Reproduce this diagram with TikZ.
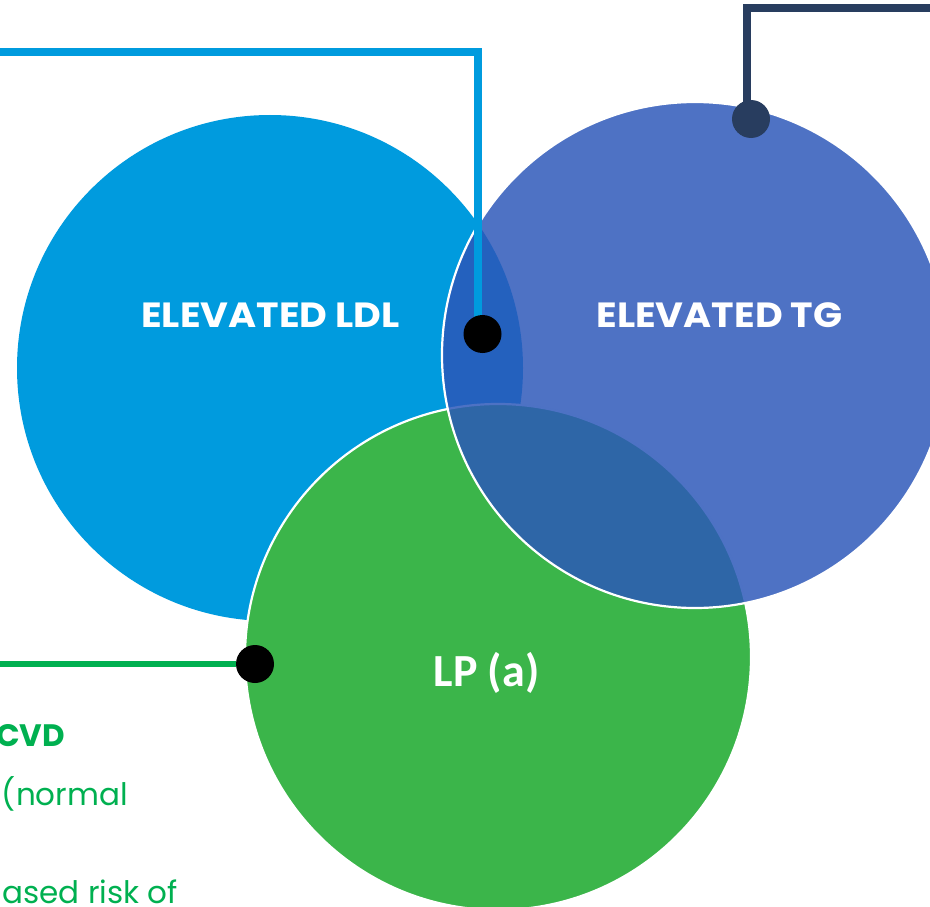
\documentclass[tikz,border=0pt]{standalone}
\usepackage{fontspec}
\newfontfamily\pop{Poppins}[BoldFont={Poppins Bold}]
\newfontfamily\carl{Carlito}[BoldFont={Carlito Bold}]
\definecolor{ldlc}{RGB}{0,155,222}
\definecolor{lpc}{RGB}{59,181,74}
\definecolor{tgc}{RGB}{44,87,185}
\definecolor{navyc}{RGB}{40,61,95}
\definecolor{linegreen}{RGB}{0,176,80}
\begin{document}
\begin{tikzpicture}[x=1pt,y=-1pt,
  bigcircle/.style={circle, minimum size=506pt, inner sep=0pt},
  dotnode/.style={circle, minimum size=38pt, inner sep=0pt, fill=#1},
  connector/.style={line width=7.5pt, draw=#1},
  label/.style={text=white, inner sep=0pt, anchor=base},
  biglabel/.style={label, font=\pop\bfseries\fontsize{35}{40}\selectfont, xscale=1.09},
  note/.style={text=linegreen, inner sep=0pt, anchor=base east, font=\pop\fontsize{31}{36}\selectfont}
]
\useasboundingbox (0,0) rectangle (930,907);
\clip (0,0) rectangle (930,907);
% circles
\node[bigcircle, fill=ldlc] (ldl) at (270,368) {};
\node[bigcircle, fill=lpc, draw=white, line width=2.2pt] (lp) at (498,657) {};
\node[bigcircle, fill=tgc, fill opacity=0.84, draw=white, draw opacity=1, line width=2.2pt] (tg) at (695,355) {};
% labels
\node[biglabel] (ldltxt) at (270.5,327) {ELEVATED LDL};
\node[biglabel] (tgtxt) at (719.5,327) {ELEVATED TG};
\node[label, font=\carl\bfseries\fontsize{46}{50}\selectfont] (lptxt) at (486.5,686) {LP (a)};
% connectors
\coordinate (b0) at (-5,52);
\coordinate (b1) at (478,52);
\coordinate (b2) at (478,330);
\draw[connector=ldlc] (b0) -- (b1) -- (b2);
\node[dotnode=black] (bdot) at (482.5,334) {};
\coordinate (n0) at (935,8);
\coordinate (n1) at (747,8);
\coordinate (n2) at (747,115);
\draw[connector=navyc, line width=8pt] (n0) -- (n1) -- (n2);
\node[dotnode=navyc] (ndot) at (751,119) {};
\coordinate (g0) at (-5,664);
\node[dotnode=black] (gdot) at (255,664) {};
\draw[connector=linegreen, line width=6pt] (g0) -- (gdot.west);
% notes
\node[note, font=\pop\bfseries\fontsize{31}{36}\selectfont] (t1) at (65,746) {CVD};
\node[note] (t2) at (128,805) {(normal};
\node[note] (t3) at (178,903) {ased risk of};
\end{tikzpicture}
\end{document}
